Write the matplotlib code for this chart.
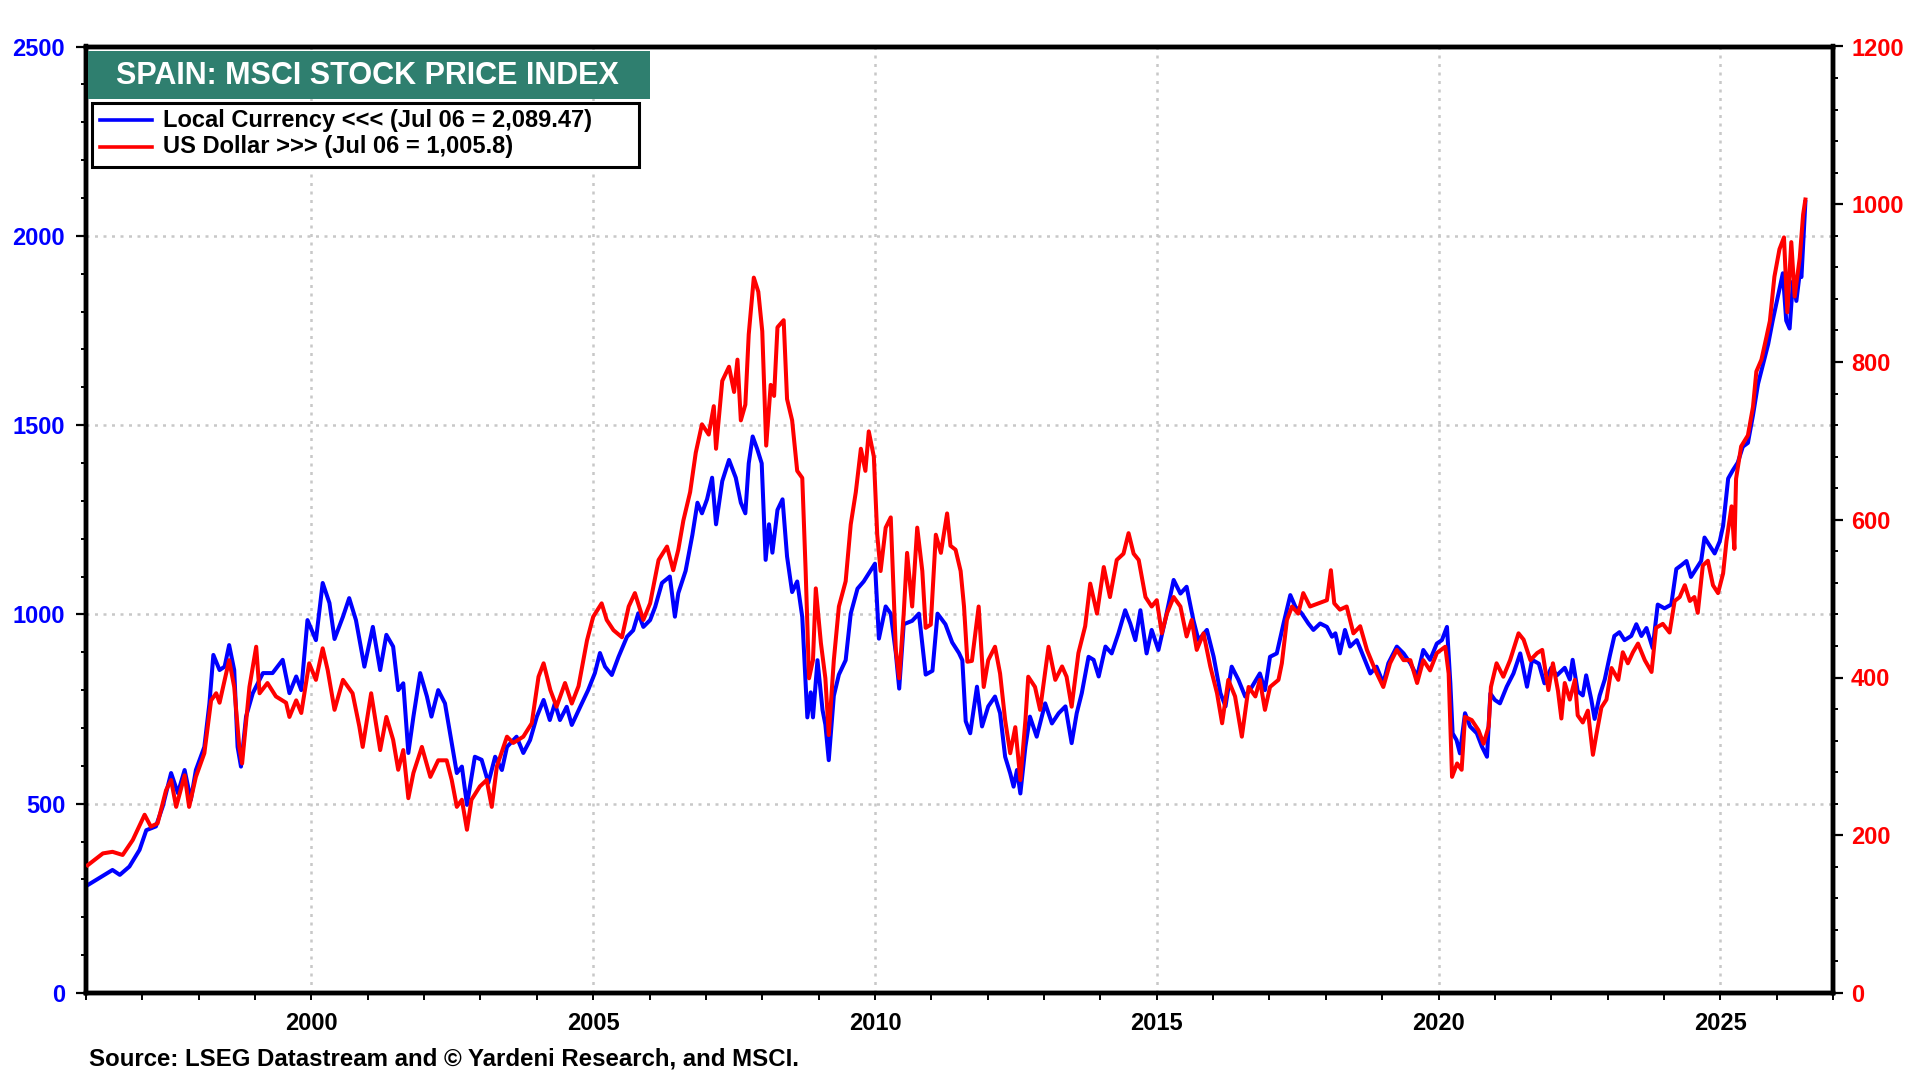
import numpy as np
import matplotlib
matplotlib.use("Agg")
import matplotlib.pyplot as plt
from matplotlib.ticker import MultipleLocator, FormatStrFormatter
from matplotlib.patches import Rectangle
from matplotlib.lines import Line2D

plt.rcParams['font.family'] = ['Liberation Sans', 'DejaVu Sans']
plt.rcParams['font.weight'] = 'bold'

# ---------------- data ----------------
title = "SPAIN: MSCI STOCK PRICE INDEX"
local_label = "Local Currency <<< (Jul 06 = 2,089.47)"
usd_label = "US Dollar >>> (Jul 06 = 1,005.8)"
source = "Source: LSEG Datastream and \u00a9 Yardeni Research, and MSCI."

local_t = [1996.03, 1996.47, 1996.6, 1996.77, 1996.95, 1997.07, 1997.24, 1997.36, 1997.51, 1997.63,
           1997.75, 1997.86, 1997.95, 1998.10, 1998.19, 1998.26, 1998.37, 1998.46, 1998.54, 1998.63,
           1998.69, 1998.75, 1998.84, 1998.96, 1999.14, 1999.31, 1999.49, 1999.61, 1999.73, 1999.82,
           1999.93, 2000.08, 2000.20, 2000.32, 2000.41, 2000.56, 2000.67, 2000.79, 2000.94, 2001.09,
           2001.22, 2001.33, 2001.45, 2001.54, 2001.63, 2001.72, 2001.81, 2001.93, 2002.05, 2002.13,
           2002.25, 2002.37, 2002.46, 2002.58, 2002.67, 2002.76, 2002.90, 2003.02, 2003.14, 2003.26,
           2003.38, 2003.47, 2003.64, 2003.76, 2003.88, 2004.00, 2004.12, 2004.23, 2004.32, 2004.41,
           2004.53, 2004.62, 2004.77, 2004.91, 2005.03, 2005.12, 2005.21, 2005.33, 2005.45, 2005.60,
           2005.71, 2005.80, 2005.89, 2006.01, 2006.10, 2006.22, 2006.36, 2006.45, 2006.51, 2006.64,
           2006.76, 2006.85, 2006.93, 2007.02, 2007.11, 2007.18, 2007.29, 2007.41, 2007.53, 2007.62,
           2007.70, 2007.76, 2007.83, 2007.91, 2007.99, 2008.06, 2008.12, 2008.18, 2008.27, 2008.36,
           2008.44, 2008.53, 2008.62, 2008.71, 2008.80, 2008.86, 2008.90, 2008.98, 2009.07, 2009.12,
           2009.18, 2009.27, 2009.36, 2009.48, 2009.57, 2009.69, 2009.80, 2009.92, 2010.00, 2010.07,
           2010.19, 2010.28, 2010.37, 2010.43, 2010.51, 2010.66, 2010.78, 2010.90, 2011.02, 2011.11,
           2011.25, 2011.37, 2011.49, 2011.55, 2011.61, 2011.69, 2011.81, 2011.90, 2012.01, 2012.13,
           2012.22, 2012.31, 2012.40, 2012.46, 2012.52, 2012.58, 2012.67, 2012.75, 2012.87, 2013.02,
           2013.14, 2013.26, 2013.38, 2013.49, 2013.58, 2013.67, 2013.79, 2013.88, 2013.97, 2014.09,
           2014.20, 2014.32, 2014.44, 2014.53, 2014.62, 2014.71, 2014.82, 2014.91, 2015.03, 2015.15,
           2015.30, 2015.42, 2015.53, 2015.65, 2015.74, 2015.89, 2016.01, 2016.13, 2016.22, 2016.33,
           2016.45, 2016.57, 2016.69, 2016.83, 2016.92, 2017.01, 2017.13, 2017.25, 2017.37, 2017.46,
           2017.57, 2017.69, 2017.78, 2017.90, 2018.02, 2018.11, 2018.17, 2018.25, 2018.34, 2018.43,
           2018.55, 2018.67, 2018.79, 2018.90, 2019.02, 2019.11, 2019.26, 2019.38, 2019.50, 2019.62,
           2019.73, 2019.85, 2019.97, 2020.06, 2020.15, 2020.21, 2020.25, 2020.32, 2020.38, 2020.47,
           2020.56, 2020.68, 2020.77, 2020.86, 2020.92, 2021.00, 2021.09, 2021.21, 2021.33, 2021.45,
           2021.57, 2021.66, 2021.78, 2021.88, 2022.00, 2022.10, 2022.24, 2022.33, 2022.38, 2022.47,
           2022.56, 2022.62, 2022.71, 2022.77, 2022.86, 2022.95, 2023.04, 2023.12, 2023.21, 2023.30,
           2023.42, 2023.51, 2023.60, 2023.69, 2023.80, 2023.89, 2024.01, 2024.13, 2024.22, 2024.31,
           2024.40, 2024.48, 2024.57, 2024.66, 2024.72, 2024.81, 2024.90, 2024.99, 2025.05, 2025.14,
           2025.22, 2025.31, 2025.40, 2025.49, 2025.58, 2025.67, 2025.76, 2025.85, 2025.93, 2026.02,
           2026.11, 2026.17, 2026.23, 2026.29, 2026.35, 2026.41, 2026.44, 2026.51]
local_v = [285, 325, 312, 334, 378, 430, 440, 492, 581, 528,
           589, 510, 589, 650, 765, 893, 853, 862, 919, 853,
           650, 598, 730, 792, 845, 845, 880, 792, 836, 800,
           985, 932, 1083, 1030, 935, 994, 1043, 985, 862, 967,
           853, 946, 915, 800, 818, 634, 730, 845, 783, 730,
           800, 765, 686, 581, 598, 497, 624, 616, 555, 624,
           589, 650, 677, 634, 668, 730, 774, 721, 765, 721,
           756, 708, 756, 800, 845, 898, 862, 840, 888, 941,
           958, 1003, 967, 985, 1020, 1083, 1100, 994, 1056, 1115,
           1210, 1295, 1267, 1304, 1361, 1238, 1352, 1408, 1361, 1295,
           1267, 1399, 1470, 1437, 1399, 1144, 1238, 1163, 1276, 1304,
           1153, 1059, 1087, 993, 728, 794, 728, 879, 747, 709,
           615, 785, 841, 879, 1002, 1068, 1087, 1115, 1134, 936,
           1021, 1002, 898, 804, 974, 983, 1002, 841, 851, 1002,
           974, 926, 898, 879, 718, 686, 809, 704, 757, 783,
           739, 624, 580, 545, 589, 527, 651, 730, 677, 765,
           712, 739, 757, 660, 739, 792, 888, 880, 836, 915,
           897, 950, 1011, 976, 932, 1011, 897, 959, 906, 985,
           1091, 1055, 1073, 985, 932, 959, 888, 792, 757, 862,
           827, 783, 809, 844, 800, 888, 897, 976, 1051, 1020,
           1003, 976, 959, 976, 967, 941, 950, 897, 959, 915,
           932, 888, 844, 862, 818, 871, 915, 897, 871, 836,
           906, 880, 923, 932, 967, 818, 686, 668, 633, 739,
           704, 686, 651, 624, 791, 774, 765, 809, 844, 897,
           809, 880, 870, 818, 859, 839, 859, 828, 880, 797,
           786, 839, 776, 724, 786, 828, 891, 943, 953, 932,
           943, 974, 943, 964, 911, 1026, 1016, 1026, 1120, 1130,
           1141, 1099, 1120, 1141, 1203, 1182, 1161, 1193, 1234, 1359,
           1380, 1401, 1443, 1453, 1526, 1609, 1661, 1714, 1776, 1839,
           1901, 1776, 1755, 1880, 1828, 1901, 1891, 2089]

usd_t = [1996.03, 1996.30, 1996.47, 1996.65, 1996.83, 1997.04, 1997.15, 1997.27, 1997.42, 1997.51,
         1997.60, 1997.75, 1997.83, 1997.95, 1998.10, 1998.22, 1998.31, 1998.37, 1998.54, 1998.63,
         1998.72, 1998.77, 1998.90, 1999.02, 1999.08, 1999.22, 1999.37, 1999.55, 1999.61, 1999.73,
         1999.82, 1999.96, 2000.08, 2000.20, 2000.29, 2000.41, 2000.56, 2000.73, 2000.85, 2000.91,
         2001.06, 2001.22, 2001.33, 2001.45, 2001.54, 2001.63, 2001.72, 2001.81, 2001.96, 2002.11,
         2002.25, 2002.40, 2002.49, 2002.58, 2002.67, 2002.76, 2002.84, 2002.99, 2003.11, 2003.20,
         2003.29, 2003.47, 2003.58, 2003.76, 2003.91, 2004.03, 2004.12, 2004.24, 2004.35, 2004.50,
         2004.62, 2004.74, 2004.89, 2005.00, 2005.15, 2005.24, 2005.36, 2005.51, 2005.63, 2005.74,
         2005.89, 2006.01, 2006.16, 2006.31, 2006.42, 2006.51, 2006.60, 2006.72, 2006.82, 2006.93,
         2007.05, 2007.14, 2007.18, 2007.29, 2007.41, 2007.50, 2007.56, 2007.62, 2007.70, 2007.76,
         2007.85, 2007.93, 2008.00, 2008.07, 2008.15, 2008.21, 2008.27, 2008.38, 2008.44, 2008.53,
         2008.62, 2008.71, 2008.77, 2008.83, 2008.90, 2008.95, 2009.04, 2009.12, 2009.18, 2009.27,
         2009.36, 2009.48, 2009.57, 2009.66, 2009.75, 2009.83, 2009.89, 2009.98, 2010.04, 2010.10,
         2010.19, 2010.28, 2010.37, 2010.43, 2010.51, 2010.57, 2010.66, 2010.75, 2010.84, 2010.90,
         2010.99, 2011.08, 2011.17, 2011.28, 2011.34, 2011.43, 2011.52, 2011.58, 2011.64, 2011.72,
         2011.84, 2011.93, 2012.01, 2012.13, 2012.22, 2012.31, 2012.40, 2012.49, 2012.58, 2012.67,
         2012.72, 2012.84, 2012.93, 2013.08, 2013.20, 2013.32, 2013.40, 2013.49, 2013.61, 2013.73,
         2013.82, 2013.94, 2014.06, 2014.17, 2014.29, 2014.41, 2014.50, 2014.59, 2014.68, 2014.80,
         2014.91, 2015.00, 2015.09, 2015.18, 2015.30, 2015.42, 2015.53, 2015.62, 2015.71, 2015.83,
         2015.95, 2016.07, 2016.16, 2016.27, 2016.39, 2016.51, 2016.63, 2016.75, 2016.83, 2016.92,
         2017.01, 2017.16, 2017.22, 2017.31, 2017.40, 2017.51, 2017.60, 2017.72, 2017.87, 2018.02,
         2018.09, 2018.15, 2018.25, 2018.37, 2018.49, 2018.61, 2018.73, 2018.88, 2019.02, 2019.14,
         2019.26, 2019.38, 2019.50, 2019.62, 2019.73, 2019.85, 2019.97, 2020.12, 2020.18, 2020.24,
         2020.33, 2020.41, 2020.47, 2020.59, 2020.71, 2020.80, 2020.89, 2020.93, 2021.03, 2021.15,
         2021.27, 2021.42, 2021.51, 2021.63, 2021.75, 2021.84, 2021.95, 2022.03, 2022.12, 2022.18,
         2022.24, 2022.33, 2022.42, 2022.47, 2022.56, 2022.65, 2022.74, 2022.80, 2022.89, 2022.98,
         2023.07, 2023.19, 2023.27, 2023.36, 2023.45, 2023.54, 2023.66, 2023.78, 2023.86, 2023.98,
         2024.10, 2024.19, 2024.28, 2024.37, 2024.46, 2024.54, 2024.60, 2024.69, 2024.78, 2024.87,
         2024.96, 2025.05, 2025.11, 2025.20, 2025.25, 2025.28, 2025.37, 2025.49, 2025.58, 2025.64,
         2025.73, 2025.82, 2025.88, 2025.96, 2026.05, 2026.13, 2026.19, 2026.26, 2026.32, 2026.41,
         2026.47, 2026.51]
usd_v = [162, 177, 179, 175, 194, 226, 211, 215, 257, 270,
         236, 276, 236, 274, 304, 371, 380, 368, 422, 388,
         312, 291, 388, 439, 380, 393, 376, 368, 350, 371,
         355, 418, 397, 437, 409, 359, 397, 380, 338, 312,
         380, 308, 350, 321, 283, 308, 247, 279, 312, 274,
         295, 295, 270, 236, 245, 207, 245, 262, 270, 236,
         287, 325, 317, 325, 342, 401, 418, 384, 363, 393,
         367, 389, 447, 477, 494, 473, 460, 451, 490, 507,
         473, 494, 549, 566, 536, 562, 599, 635, 685, 721,
         708, 744, 690, 776, 794, 762, 803, 726, 746, 835,
         907, 889, 839, 694, 771, 757, 844, 853, 753, 726,
         662, 653, 535, 399, 422, 513, 444, 399, 327, 422,
         490, 522, 594, 635, 690, 662, 712, 680, 581, 535,
         590, 603, 435, 399, 481, 558, 490, 590, 535, 463,
         467, 581, 558, 608, 567, 562, 535, 490, 420, 421,
         490, 388, 422, 439, 405, 346, 304, 337, 270, 346,
         401, 388, 359, 439, 397, 414, 401, 363, 431, 465,
         519, 481, 540, 502, 549, 557, 583, 557, 549, 502,
         490, 498, 456, 481, 502, 490, 452, 473, 435, 456,
         414, 380, 342, 397, 376, 325, 388, 376, 397, 359,
         388, 397, 418, 473, 490, 481, 507, 490, 494, 498,
         536, 494, 486, 490, 456, 465, 435, 409, 388, 418,
         435, 422, 422, 393, 422, 409, 431, 439, 405, 274,
         291, 283, 350, 346, 333, 316, 338, 388, 418, 401,
         422, 456, 448, 422, 431, 435, 384, 418, 383, 348,
         393, 372, 397, 352, 343, 358, 302, 327, 362, 372,
         412, 397, 432, 418, 432, 443, 422, 407, 463, 468,
         457, 497, 502, 517, 497, 502, 482, 542, 548, 517,
         507, 532, 573, 617, 563, 652, 693, 707, 743, 788,
         803, 832, 852, 908, 943, 958, 863, 952, 883, 932,
         987, 1006]

left_ticks = [0, 500, 1000, 1500, 2000, 2500]
right_ticks = [0, 200, 400, 600, 800, 1000, 1200]
year_ticks = [2000, 2005, 2010, 2015, 2020, 2025]

# ---------------- figure ----------------
W, H = 1920, 1080
fig = plt.figure(figsize=(W / 100, H / 100), dpi=100)
fig.patch.set_facecolor('white')

L, R, T, B = 86, 1833, 46.5, 993
ax = fig.add_axes([L / W, (H - B) / H, (R - L) / W, (B - T) / H])
ax2 = ax.twinx()

BLUE = '#0000ff'
RED = '#ff0000'
GREEN = '#2f7f6f'

ax.plot(local_t, local_v, color=BLUE, lw=2.9, zorder=3)
ax2.plot(usd_t, usd_v, color=RED, lw=2.9, zorder=3)

ax.set_xlim(1996, 2027)
ax.set_ylim(0, 2500)
ax2.set_ylim(0, 1200)

ax.set_yticks(left_ticks)
ax.yaxis.set_minor_locator(MultipleLocator(100))
ax2.set_yticks(right_ticks)
ax2.yaxis.set_minor_locator(MultipleLocator(40))
ax.set_xticks(year_ticks)
ax.xaxis.set_minor_locator(MultipleLocator(1))
ax.xaxis.set_major_formatter(FormatStrFormatter('%d'))

for a in (ax, ax2):
    for s in a.spines.values():
        s.set_linewidth(3.2)
        s.set_color('black')

ax.tick_params(axis='y', which='major', direction='out', length=7, width=1.6,
               labelsize=17, labelcolor=BLUE, pad=8)
ax.tick_params(axis='y', which='minor', direction='out', length=3.5, width=1.4)
ax2.tick_params(axis='y', which='major', direction='out', length=7, width=1.6,
                labelsize=17, labelcolor=RED, pad=6)
ax2.tick_params(axis='y', which='minor', direction='out', length=3.5, width=1.4)
ax.tick_params(axis='x', which='both', direction='out', length=5, width=1.4,
               labelsize=17, labelcolor='black', pad=9)
for lab in ax.get_yticklabels() + ax2.get_yticklabels() + ax.get_xticklabels():
    lab.set_fontweight('bold')

ax.grid(True, which='major', axis='both', color='#c8c8c8', linestyle=(0, (1.2, 2.2)),
        linewidth=1.8, zorder=0)
ax.set_axisbelow(True)

# ---------------- title box ----------------
def fx(px):
    return px / W

def fy(py):
    return (H - py) / H

fig.patches.append(Rectangle((fx(88), fy(99)), fx(650) - fx(88), fy(51) - fy(99),
                             transform=fig.transFigure, facecolor=GREEN, edgecolor='none',
                             zorder=5))
fig.text(fx(116), fy(75.5), title, color='white', fontsize=22, fontweight='bold',
         ha='left', va='center', zorder=6)

# ---------------- legend box ----------------
fig.patches.append(Rectangle((fx(92), fy(167)), fx(639) - fx(92), fy(103) - fy(167),
                             transform=fig.transFigure, facecolor='white', edgecolor='black',
                             linewidth=2.2, zorder=5))
for yy, col, lab in ((120, BLUE, local_label), (147, RED, usd_label)):
    fig.lines.append(Line2D([fx(100), fx(152)], [fy(yy), fy(yy)], color=col, lw=2.6,
                            transform=fig.transFigure, zorder=6))
    fig.text(fx(163), fy(yy), lab, color='black', fontsize=17, fontweight='bold',
             ha='left', va='center', zorder=6)

# ---------------- source ----------------
fig.text(fx(89), fy(1059), source, color='black', fontsize=17.3, fontweight='bold',
         ha='left', va='center')

fig.savefig('out.png', dpi=100, facecolor='white')
